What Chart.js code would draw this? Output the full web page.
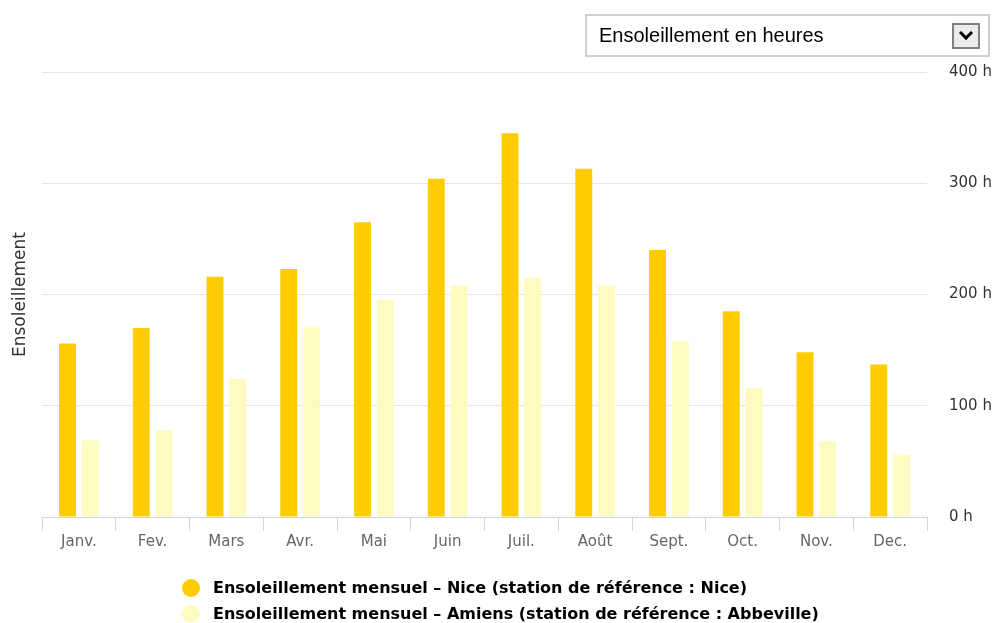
<!DOCTYPE html>
<html>
<head>
<meta charset="utf-8">
<script src="https://cdn.jsdelivr.net/npm/chart.js@4"></script>
<style>
  body { margin: 0; background: #fff; }
  #wrap { position: relative; width: 998px; height: 623px; overflow: hidden; }
  #picker {
    position: absolute; left: 585px; top: 14px; width: 401px; height: 39px;
    border: 2px solid #cfcfcf; font: 20px "Liberation Sans", Arial, sans-serif; color: #000;
  }
  #picker span { position: absolute; left: 12px; top: 8px; }
  #picker .btn {
    position: absolute; left: 365px; top: 7px; width: 24px; height: 22px;
    border: 2px solid #808080; background: #ececec;
  }
  #picker .btn:after {
    content: ""; position: absolute; left: 7px; top: 3px; width: 7px; height: 7px;
    border-right: 3px solid #000; border-bottom: 3px solid #000; transform: rotate(45deg);
  }
  #legend { position: absolute; left: 182px; top: 577px; font: bold 16px "DejaVu Sans", sans-serif; color: #000; }
  #legend div { height: 26px; line-height: 22px; white-space: nowrap; }
  #legend i { display: inline-block; width: 18px; height: 18px; border-radius: 50%; vertical-align: -4px; margin-right: 13px; }
</style>
</head>
<body>
<div id="wrap">
  <canvas id="sunChart"></canvas>
  <div id="picker"><span>Ensoleillement en heures</span><div class="btn"></div></div>
  <div id="legend"></div>
</div>
<script>
const months = ['Janv.', 'Fev.', 'Mars', 'Avr.', 'Mai', 'Juin', 'Juil.', 'Août', 'Sept.', 'Oct.', 'Nov.', 'Dec.'];
const nice = [156, 170, 216, 223, 265, 304, 345, 313, 240, 185, 148, 137];
const amiens = [69, 78, 124, 171, 195, 208, 215, 208, 158, 116, 68, 56];
const seriesNames = [
    'Ensoleillement mensuel – Nice (station de référence : Nice)',
    'Ensoleillement mensuel – Amiens (station de référence : Abbeville)'
];
const yTicks = [0, 100, 200, 300, 400];

const ctx = document.getElementById('sunChart').getContext('2d');
const myChart = new Chart(ctx, {
    type: 'bar',
    data: {
        labels: months,
        datasets: [
            { label: seriesNames[0], data: nice, backgroundColor: '#ffcc00' },
            { label: seriesNames[1], data: amiens, backgroundColor: '#fffac0' }
        ]
    },
    options: {
        responsive: true,
        maintainAspectRatio: false,
        animation: false,
        categoryPercentage: 0.616,
        barPercentage: 0.745,
        layout: { padding: { top: 72, bottom: 66, left: 0, right: 0 } },
        plugins: { legend: { display: false }, tooltip: { enabled: false } },
        scales: {
            x: {
                grid: { offset: true, drawOnChartArea: false, drawTicks: true, tickLength: 14, color: '#ccd6eb' },
                border: { color: '#ccd6eb' },
                ticks: { color: '#666666', padding: 2, font: { family: 'DejaVu Sans', size: 15 } },
                afterFit: s => { s.height = 40; }
            },
            y: {
                position: 'right',
                min: yTicks[0],
                max: yTicks[yTicks.length - 1],
                afterBuildTicks: s => { s.ticks = yTicks.map(v => ({ value: v })); },
                grid: { color: '#e6e6e6', drawTicks: false },
                border: { display: false },
                ticks: { color: '#333333', padding: 22, font: { family: 'DejaVu Sans', size: 15 }, callback: v => v + ' h' },
                afterFit: s => { s.width = 71; }
            },
            yt: {
                position: 'left',
                grid: { display: false },
                border: { display: false },
                ticks: { display: false },
                title: { display: true, text: 'Ensoleillement', color: '#333333', padding: { top: 10, bottom: 0 }, font: { family: 'DejaVu Sans', size: 17 } },
                afterFit: s => { s.width = 42; }
            }
        }
    }
});

const legend = document.getElementById('legend');
myChart.data.datasets.forEach(ds => {
    const row = document.createElement('div');
    row.innerHTML = `<i style="background:${ds.backgroundColor}"></i>${ds.label}`;
    legend.appendChild(row);
});
</script>
</body>
</html>
